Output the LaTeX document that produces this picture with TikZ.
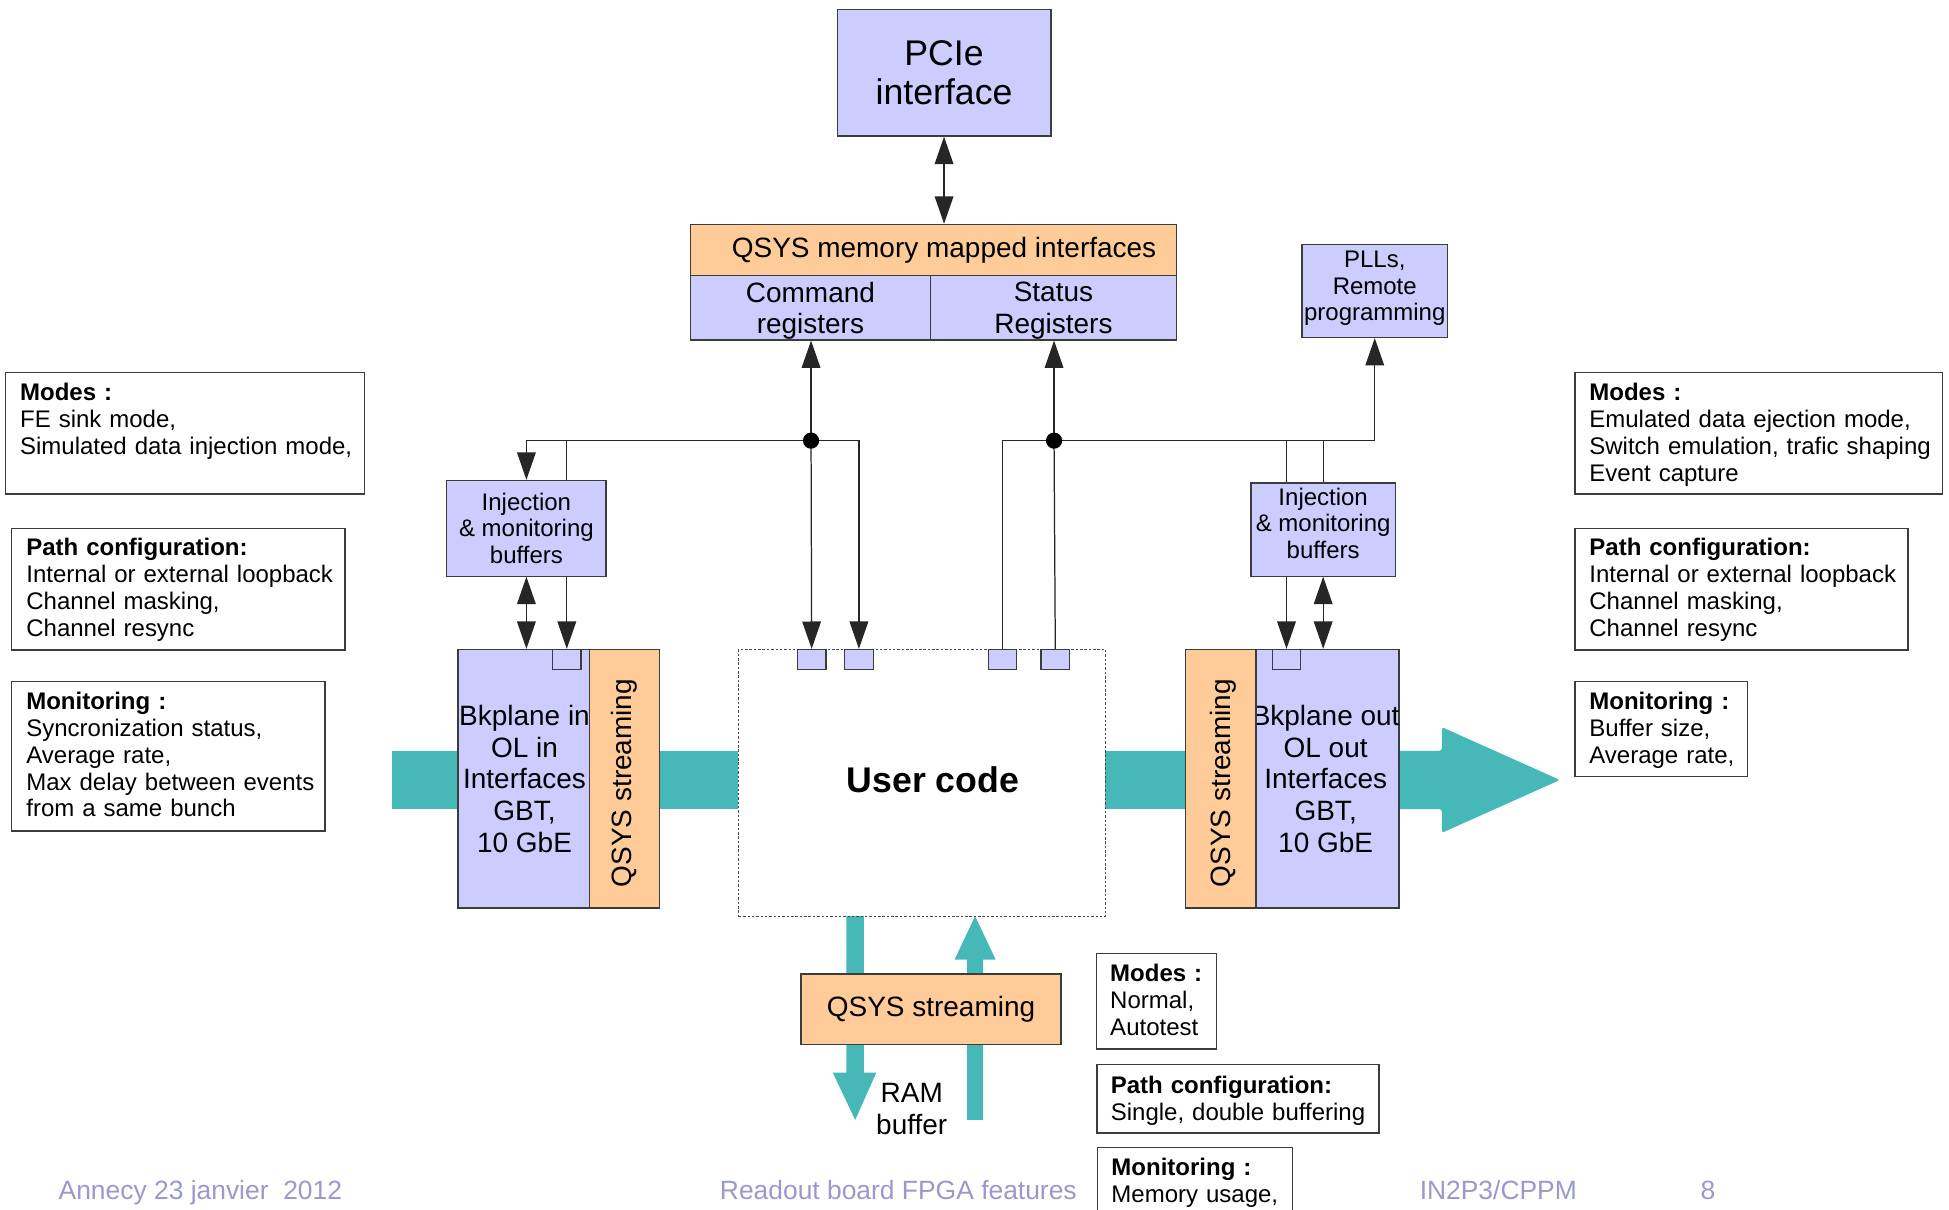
\documentclass[tikz,border=0pt]{standalone}
\usepackage{fontspec}
\setmainfont{Liberation Sans}
\usetikzlibrary{arrows.meta,calc}
\definecolor{lav}{RGB}{204,204,255}
\definecolor{org}{RGB}{255,204,153}
\definecolor{tealband}{RGB}{71,184,184}
\definecolor{foot}{RGB}{153,153,204}
\definecolor{edge}{RGB}{60,60,60}
\begin{document}
\begin{tikzpicture}[x=1pt,y=-1pt,
  boxbase/.style={draw=edge, line width=1pt, inner sep=0pt, anchor=north west, align=center},
  lavbox/.style={boxbase, fill=lav},
  orgbox/.style={boxbase, fill=org},
  infobox/.style={boxbase, fill=white},
  portsq/.style={boxbase, fill=lav, minimum width=23pt, minimum height=16pt},
  smalltxt/.style={font=\fontsize{19.3}{21.5}\selectfont},
  midtxt/.style={font=\fontsize{22.5}{25.5}\selectfont},
  bigtxt/.style={font=\fontsize{28.7}{32}\selectfont},
  infotext/.style={anchor=base west, align=left, inner sep=0pt, text width=300pt, font=\fontsize{19.3}{21.5}\selectfont},
  conn/.style={draw=black!85, line width=1pt},
  tipshape/.tip={Triangle[length=22pt,width=15pt]},
  arr/.style={conn, -tipshape},
  darr/.style={conn, tipshape-tipshape},
  footer/.style={anchor=base west, inner sep=0pt, text=foot, font=\fontsize{21.25}{24}\selectfont}]
\useasboundingbox[fill=white] (0,0) rectangle (1568,973);

% teal streams
\fill[tealband] (315,604) rectangle (368,651);
\fill[tealband] (530,604) rectangle (594,651);
\fill[tealband] (889,604) rectangle (953,651);
\fill[tealband, rounded corners=2pt] (1124,604) -- (1160,604) -- (1160,585) -- (1255,627.5) -- (1160,670) -- (1160,651) -- (1124,651) -- cycle;
\fill[tealband] (681,737) -- (695,737) -- (695,863) -- (705,863) -- (688,901) -- (670,863) -- (681,863) -- cycle;
\fill[tealband] (778,901) -- (791,901) -- (791,772) -- (801,772) -- (784.5,737) -- (768,772) -- (778,772) -- cycle;

% top boxes
\node[lavbox, bigtxt, minimum width=172pt, minimum height=102pt] (pcie) at (673,7) {PCIe\\interface};
\node[orgbox, minimum width=391pt, minimum height=41pt] (qmm) at (555,180) {};
\node[midtxt, inner sep=0pt] at ($(qmm.center)+(8.5,0.5)$) {QSYS memory mapped interfaces};
\node[lavbox, minimum width=193pt, minimum height=52pt] (cmd) at (555,221) {};
\node[midtxt, align=center, inner sep=0pt] at ($(cmd.center)+(0,2.5)$) {Command\\registers};
\node[lavbox, minimum width=198pt, minimum height=52pt] (sts) at (748,221) {};
\node[midtxt, align=center, inner sep=0pt] at ($(sts.center)+(0,2.5)$) {Status\\Registers};
\node[lavbox, smalltxt, minimum width=117pt, minimum height=75pt, text depth=8pt] (plls) at (1047,196) {PLLs,\\Remote\\programming};

% injection buffers
\node[lavbox, smalltxt, minimum width=128pt, minimum height=77pt] (injL) at (359,386) {Injection\\\& monitoring\\buffers};
\node[lavbox, smalltxt, minimum width=116pt, minimum height=75pt, text depth=10pt] (injR) at (1006,388) {Injection\\\& monitoring\\buffers};

% interface blocks
\node[lavbox, minimum width=106pt, minimum height=208pt] (bkL) at (368,522) {};
\node[midtxt, align=center, inner sep=0pt] at ($(bkL.center)+(0.5,0)$) {Bkplane in\\OL in\\Interfaces\\GBT,\\10 GbE};
\node[orgbox, minimum width=56pt, minimum height=208pt] (qsL) at (474,522) {};
\node[midtxt, rotate=90, inner sep=0pt] at ($(qsL.center)+(0,3.5)$) {QSYS streaming};
\node[lavbox, minimum width=115pt, minimum height=208pt] (bkR) at (1010,522) {};
\node[midtxt, align=center, inner sep=0pt] at ($(bkR.center)+(-1.5,0)$) {Bkplane out\\OL out\\Interfaces\\GBT,\\10 GbE};
\node[orgbox, minimum width=57pt, minimum height=208pt] (qsR) at (953,522) {};
\node[midtxt, rotate=90, inner sep=0pt] at ($(qsR.center)+(2,3.5)$) {QSYS streaming};

% user code
\node[boxbase, draw=black!70, line width=0.8pt, dash pattern=on 2pt off 1.5pt, minimum width=295pt, minimum height=215pt] (user) at (594,522) {};
\node[font=\fontsize{28.7}{32}\selectfont\bfseries, inner sep=0pt] at (750.5,627) {User code};

% ports
\node[portsq] (sqL) at (444,522) {};
\node[portsq] (sqU1) at (641,522) {};
\node[portsq] (sqU2) at (679,522) {};
\node[portsq] (sqU3) at (794.5,522) {};
\node[portsq] (sqU4) at (837,522) {};
\node[portsq] (sqR) at (1023,522) {};

% bottom streaming
\node[orgbox, midtxt, minimum width=209pt, minimum height=57pt] (qsB) at (644,783) {QSYS streaming};
\node[midtxt, align=center, inner sep=0pt] (ram) at (733.5,892) {RAM\\buffer};

% connectors
\coordinate (dotL) at (652.5,354.5);
\coordinate (dotR) at (848,354.5);
\draw[darr] (pcie.south) -- (pcie.south |- qmm.north);
\draw[arr] (dotL) -- (dotL |- cmd.south);
\draw[arr] (dotR) -- (dotR |- sts.south);
\draw[arr] (dotL) -| (injL.north);
\draw[conn] (sqL.north |- dotL) -- (sqL.north |- injL.north);
\draw[arr] (sqL.north |- injL.south) -- (sqL.north);
\draw[darr] (injL.south) -- (injL.south |- bkL.north);
\draw[arr] (dotL) -- (sqU1.north);
\draw[arr] (dotL) -| (sqU2.north);
\draw[conn] (dotR) -- (sqU4.north);
\draw[conn] (dotR) -| (sqU3.north);
\draw[arr] (dotR) -| (plls.south);
\draw[conn] (sqR.north |- dotR) -- (sqR.north |- injR.north);
\draw[conn] (injR.north |- dotR) -- (injR.north);
\draw[arr] (sqR.north |- injR.south) -- (sqR.north);
\draw[darr] (injR.south) -- (injR.south |- bkR.north);
\fill (dotL) circle (6.5pt);
\fill (dotR) circle (6.5pt);

% info boxes left
\node[infobox, minimum width=289pt, minimum height=98pt] (lmodes) at (4,299) {};
\node[infotext] at (16,322.5) {\textbf{Modes :}\\FE sink mode,\\Simulated data injection mode,};
\node[infobox, minimum width=268pt, minimum height=98pt] (lpath) at (9,424.5) {};
\node[infotext] at (21,447.3) {\textbf{Path configuration:}\\Internal or external loopback\\Channel masking,\\Channel resync};
\node[infobox, minimum width=252pt, minimum height=120pt] (lmon) at (9,548) {};
\node[infotext] at (21,571.2) {\textbf{Monitoring :}\\Syncronization status,\\Average rate,\\Max delay between events\\from a same bunch};

% info boxes right
\node[infobox, minimum width=296pt, minimum height=98pt] (rmodes) at (1266.5,299) {};
\node[infotext] at (1278.5,322.5) {\textbf{Modes :}\\Emulated data ejection mode,\\Switch emulation, trafic shaping\\Event capture};
\node[infobox, minimum width=268pt, minimum height=98pt] (rpath) at (1266.5,424.5) {};
\node[infotext] at (1278.5,447.3) {\textbf{Path configuration:}\\Internal or external loopback\\Channel masking,\\Channel resync};
\node[infobox, minimum width=139pt, minimum height=76.5pt] (rmon) at (1266.5,548) {};
\node[infotext] at (1278.5,571.2) {\textbf{Monitoring :}\\Buffer size,\\Average rate,};

% info boxes bottom
\node[infobox, minimum width=96.5pt, minimum height=77pt] (bmodes) at (881.5,766.5) {};
\node[infotext] at (893,789.8) {\textbf{Modes :}\\Normal,\\Autotest};
\node[infobox, minimum width=227pt, minimum height=55pt] (bpath) at (882,856) {};
\node[infotext] at (893.5,879.6) {\textbf{Path configuration:}\\Single, double buffering};
\node[infobox, minimum width=157pt, minimum height=60pt] (bmon) at (882.5,922.5) {};
\node[infotext] at (894,946) {\textbf{Monitoring :}\\Memory usage,};

% footer
\node[footer] at (47,965.4) {Annecy 23 janvier\ \ 2012};
\node[footer] at (579,965.4) {Readout board FPGA features};
\node[footer] at (1142,965.4) {IN2P3/CPPM};
\node[footer] at (1368,965.4) {8};
\end{tikzpicture}
\end{document}
